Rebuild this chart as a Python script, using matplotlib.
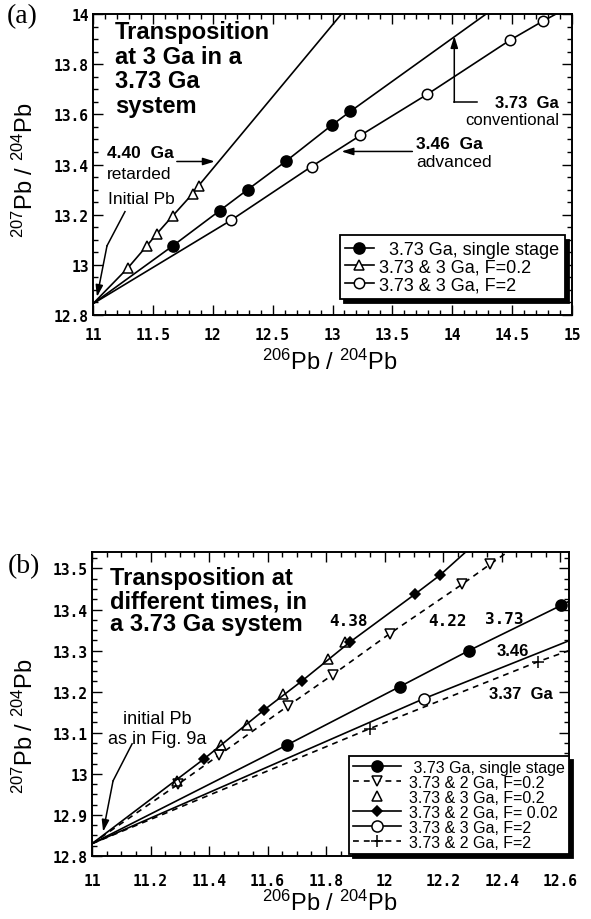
import matplotlib.pyplot as plt
import numpy as np
from matplotlib.ticker import MultipleLocator

plt.rcParams['font.family'] = ['Liberation Sans', 'DejaVu Sans']
plt.rcParams['mathtext.fontset'] = 'custom'
plt.rcParams['mathtext.rm'] = 'Liberation Sans'
plt.rcParams['mathtext.it'] = 'Liberation Sans:italic'
plt.rcParams['mathtext.bf'] = 'Liberation Sans:bold'

# ---- (a) transposition at 3 Ga in a 3.73 Ga system ----
a_init = (11.0, 12.845)

a_single_x = [11.667, 12.058, 12.292, 12.608, 12.992, 13.15]
a_single_y = [13.076, 13.216, 13.30, 13.412, 13.556, 13.612]
a_single_end = (14.283, 14.0)

a_f02_x = [11.292, 11.45, 11.533, 11.667, 11.833, 11.883]
a_f02_y = [12.988, 13.076, 13.124, 13.196, 13.284, 13.316]
a_f02_end = (13.075, 14.0)

a_f2_x = [12.15, 12.825, 13.233, 13.792, 14.483, 14.758]
a_f2_y = [13.177, 13.392, 13.516, 13.68, 13.896, 13.972]
a_f2_end = (14.867, 14.0)

# ---- (b) transposition at different times ----
b_init = (11.0, 12.83)

b_single_x = [11.668, 12.051, 12.288, 12.603]
b_single_y = [13.071, 13.212, 13.300, 13.410]
b_single_end = (12.63, 13.42)

b_2ga_f02_x = [11.295, 11.435, 11.671, 11.822, 12.017, 12.264, 12.360]
b_2ga_f02_y = [12.975, 13.046, 13.166, 13.241, 13.341, 13.461, 13.510]
b_2ga_f02_end = (12.42, 13.54)

b_3ga_f02_x = [11.291, 11.442, 11.531, 11.654, 11.808, 11.866]
b_3ga_f02_y = [12.982, 13.071, 13.120, 13.195, 13.280, 13.320]

b_2ga_f002_x = [11.384, 11.589, 11.719, 11.880, 12.103, 12.188]
b_2ga_f002_y = [13.037, 13.156, 13.227, 13.320, 13.437, 13.483]
b_2ga_f002_end = (12.277, 13.54)

b_3ga_f2_x = [12.134]
b_3ga_f2_y = [13.183]
b_3ga_f2_end = (12.63, 13.324)

b_2ga_f2_x = [11.949, 12.524]
b_2ga_f2_y = [13.110, 13.273]
b_2ga_f2_end = (12.63, 13.30)

b_age_labels = ['4.38', '4.22', '3.73']
b_age_x = [11.877, 12.216, 12.408]
b_age_y = [13.373, 13.373, 13.378]

tick_font = dict(fontfamily='DejaVu Sans Mono', fontweight='bold', fontsize=10.5)


def curve(ax, init, xs, ys, end, marker, ms, face, dashed, label):
    lx = [init[0]] + xs + ([end[0]] if end else [])
    ly = [init[1]] + ys + ([end[1]] if end else [])
    n = len(xs)
    line, = ax.plot(lx, ly, color='k', lw=1.2, marker=marker, ms=ms,
                    mfc=face, mec='k', mew=1.1,
                    markevery=list(range(1, n + 1)), label=label)
    if dashed:
        line.set_dashes((3.5, 3.0))
    return line


def arrow(ax, pts):
    # polyline ending in an arrow head at the last point
    xs = [p[0] for p in pts[:-1]]
    ys = [p[1] for p in pts[:-1]]
    if len(xs) > 1:
        ax.plot(xs, ys, color='k', lw=1.1)
    ax.annotate('', xy=pts[-1], xytext=pts[-2],
                arrowprops=dict(arrowstyle='-|>,head_length=0.7,head_width=0.22',
                                color='k', lw=1.1, shrinkA=0, shrinkB=0))


def setup_axes(ax, xlim, ylim, xmaj, xmin, ymaj, ymin, xpad, xlast, ylast):
    ax.set_xlim(*xlim)
    ax.set_ylim(*ylim)
    xt = np.arange(xlim[0], xlast + 1e-6, xmaj)
    yt = np.arange(ylim[0], ylast + 1e-6, ymaj)
    ax.set_xticks(xt, labels=['%g' % round(t, 3) for t in xt], **tick_font)
    ax.set_yticks(yt, labels=['%g' % round(t, 3) for t in yt], **tick_font)
    ax.xaxis.set_minor_locator(MultipleLocator(xmin))
    ax.yaxis.set_minor_locator(MultipleLocator(ymin))
    ax.tick_params(which='both', direction='in', top=True, right=True, width=1.0)
    ax.tick_params(which='major', length=7)
    ax.tick_params(which='minor', length=3.5)
    ax.tick_params(axis='x', pad=xpad)
    ax.tick_params(axis='y', pad=3)
    for s in ax.spines.values():
        s.set_linewidth(1.4)


fig = plt.figure(figsize=(5.91, 9.2), dpi=100)

ax = fig.add_axes([93 / 591, 1 - 316 / 920, 479 / 591, 301 / 920])
setup_axes(ax, (11, 15), (12.8, 14.0), 0.5, 0.1, 0.2, 0.05, 9, 15, 14.0)

curve(ax, a_init, a_single_x, a_single_y, a_single_end, 'o', 8, 'k', False,
      '  3.73 Ga, single stage')
curve(ax, a_init, a_f02_x, a_f02_y, a_f02_end, '^', 7, 'white', False,
      '3.73 & 3 Ga, F=0.2')
curve(ax, a_init, a_f2_x, a_f2_y, a_f2_end, 'o', 7.5, 'white', False,
      '3.73 & 3 Ga, F=2')

ax.text(11.183, 13.975, 'Transposition\nat 3 Ga in a\n3.73 Ga\nsystem',
        fontsize=17, fontweight='bold', va='top', ha='left', linespacing=1.08)

ax.text(11.117, 13.448, '4.40  Ga', fontsize=12.5, fontweight='bold', va='center')
ax.text(11.117, 13.364, 'retarded', fontsize=12.5, va='center')
arrow(ax, [(11.70, 13.412), (12.017, 13.412)])

ax.text(11.125, 13.264, 'Initial Pb', fontsize=12.5, va='center')
arrow(ax, [(11.267, 13.212), (11.117, 13.076), (11.033, 12.872)])

ax.text(14.89, 13.648, '3.73  Ga', fontsize=12, fontweight='bold', va='center', ha='right')
ax.text(14.89, 13.580, 'conventional', fontsize=12, va='center', ha='right')
arrow(ax, [(14.208, 13.648), (14.017, 13.648), (14.017, 13.912)])

ax.text(13.70, 13.484, '3.46  Ga', fontsize=12.5, fontweight='bold', va='center')
ax.text(13.70, 13.412, 'advanced', fontsize=12.5, va='center')
arrow(ax, [(13.667, 13.452), (13.075, 13.452)])

ax.legend(loc='lower right', bbox_to_anchor=(0.985, 0.053), fontsize=13,
          fancybox=False, edgecolor='k', framealpha=1,
          shadow={'ox': 3, 'oy': -3, 'color': 'k', 'alpha': 1},
          handlelength=1.6, handletextpad=0.3, labelspacing=0.05,
          borderpad=0.3, borderaxespad=0)
ax.get_legend().get_frame().set_linewidth(1.3)

fig.text(22 / 591, 1 - 17 / 920, '(a)', family='Liberation Serif', fontsize=20,
         ha='center', va='center')
fig.text(25 / 591, 1 - 170 / 920, r'$^{207}$Pb / $^{204}$Pb', fontsize=17,
         rotation=90, ha='center', va='center')
fig.text(330 / 591, 1 - 362 / 920, r'$^{206}$Pb / $^{204}$Pb', fontsize=17,
         ha='center', va='center')

# ---- panel (b) ----
ax = fig.add_axes([92 / 591, 1 - 857 / 920, 477 / 591, 304 / 920])
setup_axes(ax, (11, 12.63), (12.8, 13.54), 0.2, 0.05, 0.1, 0.025, 12, 12.6, 13.5)

h1 = curve(ax, b_init, b_single_x, b_single_y, b_single_end, 'o', 8, 'k', False,
           ' 3.73 Ga, single stage')
h2 = curve(ax, b_init, b_2ga_f02_x, b_2ga_f02_y, b_2ga_f02_end, 'v', 6.5, 'white', True,
           '3.73 & 2 Ga, F=0.2')
h4 = curve(ax, b_init, b_2ga_f002_x, b_2ga_f002_y, b_2ga_f002_end, 'D', 5.5, 'k', False,
           '3.73 & 2 Ga, F= 0.02')
h3, = ax.plot(b_3ga_f02_x, b_3ga_f02_y, ls='none', marker='^', ms=6.5, mfc='none',
              mec='k', mew=1.1, label='3.73 & 3 Ga, F=0.2')
h5 = curve(ax, b_init, b_3ga_f2_x, b_3ga_f2_y, b_3ga_f2_end, 'o', 8, 'white', False,
           '3.73 & 3 Ga, F=2')
h6 = curve(ax, b_init, b_2ga_f2_x, b_2ga_f2_y, b_2ga_f2_end, '+', 9, 'k', True,
           '3.73 & 2 Ga, F=2')

ax.text(11.062, 13.505, 'Transposition at\ndifferent times, in\na 3.73 Ga system',
        fontsize=17, fontweight='bold', va='top', ha='left', linespacing=1.0)

for lab, x, y in zip(b_age_labels, b_age_x, b_age_y):
    ax.text(x, y, lab, family='DejaVu Sans Mono', fontweight='bold', fontsize=11.5,
            ha='center', va='center')
ax.text(12.438, 13.300, '3.46', fontsize=12, fontweight='bold', ha='center', va='center')
ax.text(12.466, 13.195, '3.37  Ga', fontsize=12, fontweight='bold', ha='center', va='center')

ax.text(11.223, 13.134, 'initial Pb', fontsize=13, ha='center', va='center')
ax.text(11.223, 13.085, 'as in Fig. 9a', fontsize=13, ha='center', va='center')
arrow(ax, [(11.137, 13.073), (11.072, 12.983), (11.038, 12.859)])

ax.legend(handles=[h1, h2, h3, h4, h5, h6], loc='lower right',
          bbox_to_anchor=(1.0, 0.007), fontsize=11.5,
          fancybox=False, edgecolor='k', framealpha=1,
          shadow={'ox': 3, 'oy': -3, 'color': 'k', 'alpha': 1},
          handlelength=3.0, handletextpad=0.5, labelspacing=0.0,
          borderpad=0.25, borderaxespad=0)
ax.get_legend().get_frame().set_linewidth(1.3)

fig.text(24 / 591, 1 - 567 / 920, '(b)', family='Liberation Serif', fontsize=20,
         ha='center', va='center')
fig.text(25 / 591, 1 - 726 / 920, r'$^{207}$Pb / $^{204}$Pb', fontsize=17,
         rotation=90, ha='center', va='center')
fig.text(330 / 591, 1 - 903 / 920, r'$^{206}$Pb / $^{204}$Pb', fontsize=17,
         ha='center', va='center')

fig.savefig('out.png', dpi=100)
